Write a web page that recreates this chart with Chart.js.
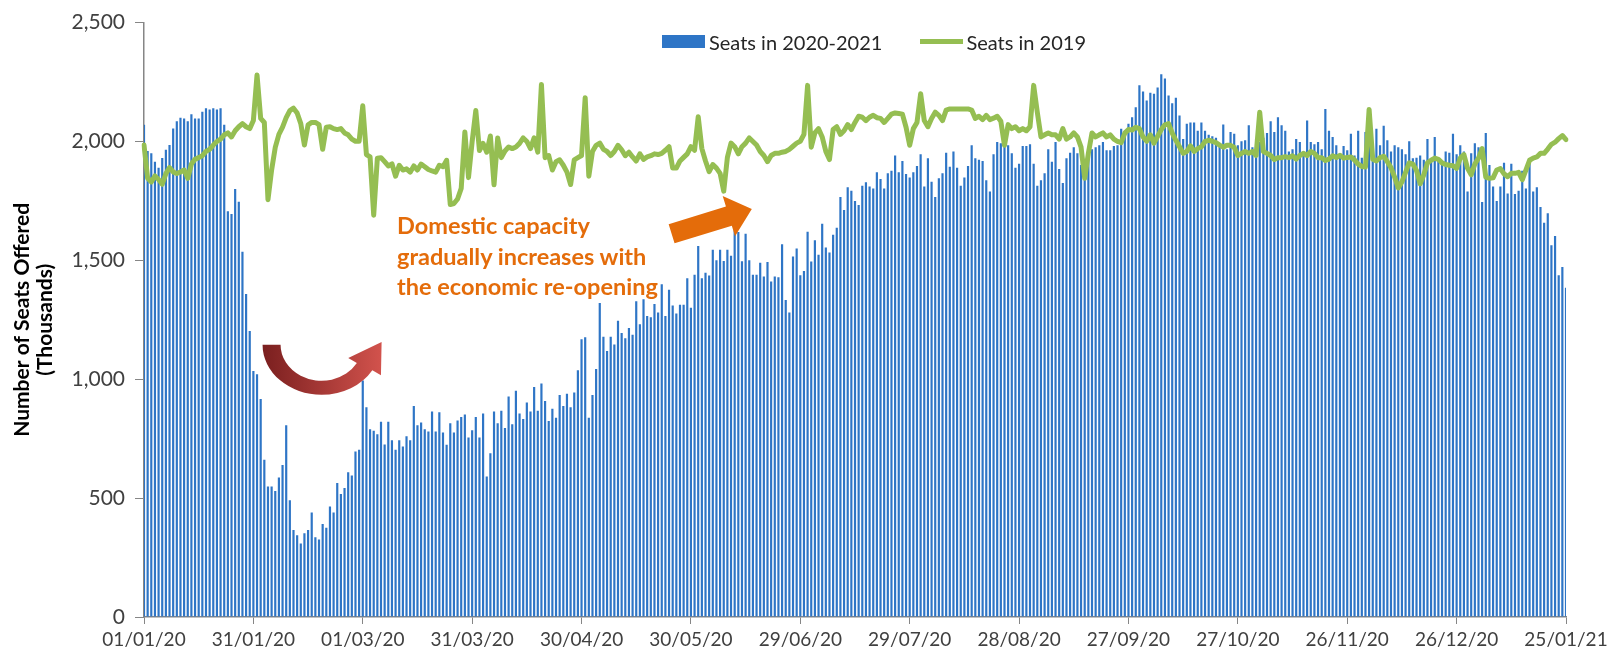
<!DOCTYPE html>
<html>
<head>
<meta charset="utf-8">
<script src="https://cdn.jsdelivr.net/npm/chart.js@4.4.1/dist/chart.umd.min.js"></script>
<style>
  body { margin: 0; background: #fff; }
  #wrap { position: relative; width: 1619px; height: 657px; font-family: Lato, 'Open Sans', sans-serif; }
  #chart { position: absolute; left: 0; top: 0; }
  .legend { position: absolute; left: 662px; top: 29px; height: 25px; display: flex; align-items: center; font-size: 20px; color: #262626; }
  .legend .box { width: 43px; height: 13px; background: #2e75c6; margin-right: 4px; }
  .legend .ln { width: 43px; height: 5px; background: #95be52; margin-left: 38px; margin-right: 3px; }
  .note { position: absolute; left: 397px; top: 210px; font-size: 23.5px; line-height: 30.5px; font-weight: bold; color: #e46c0a; }
</style>
</head>
<body>
<div id="wrap">
  <canvas id="chart" width="1619" height="657"></canvas>
  <div class="legend">
    <span class="box"></span><span>Seats in 2020-2021</span>
    <span class="ln"></span><span>Seats in 2019</span>
  </div>
  <div class="note">Domestic capacity<br>gradually increases with<br>the economic re-opening</div>
</div>
<script>
// daily seats offered (thousands), 01/01/20 .. 25/01/21
const seats2020 = [
  2070, 1960, 1950, 1915, 1890, 1930, 1965, 1985, 2055, 2085, 2100, 2097, 2085, 2115, 2097, 2097, 2125, 2140, 2135, 2140, 2135, 2140, 2070,
  1707, 1695, 1800, 1747, 1536, 1359, 1203, 1035, 1021, 917, 661, 549, 549, 530, 587, 639, 807, 491, 366, 344, 309, 352, 366, 439, 335, 326,
  391, 375, 465, 439, 564, 517, 543, 609, 595, 696, 703, 995, 882, 790, 783, 769,
  821, 726, 821, 743, 703, 743, 717, 760, 743, 887, 807,
  818, 790, 780, 864, 780, 861, 776, 724, 815, 776, 826, 841, 852, 755, 785, 841, 755, 856, 591, 689,
  864, 815, 867, 795, 927, 811, 952, 856, 833, 902, 864, 967, 867, 982, 909,
  824, 876, 838, 934, 887, 939, 882, 944, 1038, 1168, 1177, 838, 934, 1043, 1321,
  1179, 1119, 1179, 1146, 1246, 1194, 1172, 1216, 1187, 1328, 1231, 1336, 1266, 1261, 1316, 1281, 1400, 1266, 1376, 1310,
  1276, 1313, 1313, 1425, 1301, 1440, 1560, 1425, 1448, 1436, 1545, 1500, 1545, 1497, 1545, 1519, 1627, 1619, 1496, 1612, 1500, 1440, 1440,
  1490, 1432, 1493, 1411, 1432, 1429, 1568, 1333, 1281, 1516, 1550, 1437, 1455, 1620, 1495, 1585, 1524, 1654, 1554, 1533, 1608, 1637, 1767, 1712, 1807,
  1793, 1750, 1733, 1814, 1828, 1811, 1802, 1871, 1842, 1802, 1866, 1877, 1941, 1871, 1918, 1863, 1849, 1871, 1897, 1946,
  1811, 1929, 1831, 1767, 1845, 1866, 1953, 1894, 1958, 1889, 1814, 1849, 1897, 1984, 1929, 1923, 1918, 1837, 1790, 1946,
  1998, 1993, 2005, 1984, 1950, 1889, 1906, 1981, 1981, 1988, 1906, 1814, 1837, 1866, 1967, 1915, 1998, 1884, 1825, 1929,
  1953, 1976, 1950, 1901, 1915, 1963, 1967, 1976, 1984,
  1998, 1963, 1963, 1981, 1984, 2054, 2045, 2075, 2102, 2144, 2236, 2210, 2172, 2205, 2201, 2227, 2283, 2265, 2193, 2161,
  2184, 2109, 2010, 2075, 2080, 2080, 2045, 2080, 2045, 2028, 2022, 2016, 1984, 2071, 1967, 2040, 2033, 1984, 2001, 2005,
  2068, 1976, 2010, 1998, 2016, 2036, 2085, 2040, 2102, 2068, 2045, 1958, 1967, 2010, 1998, 1958, 2088, 1998, 1988, 1998,
  1967, 2137, 2045, 2019, 1984,
  1932, 1981, 1963, 2033, 1941, 2045, 1932, 2040, 2010, 1976, 2054, 1984, 2066, 2005, 1958, 1984, 1976, 1967, 1946, 2001,
  1929, 1932, 1941, 1923, 2010, 1923, 2019, 1923, 1918, 1958, 1953, 2033, 1946, 1984, 1958, 1790, 1950, 1993, 1976, 1745,
  2036, 1901, 1811, 1750, 1811, 1911, 1781, 1906, 1779, 1793, 1877, 1802, 1911, 1790, 1807, 1724, 1658, 1698, 1564, 1602,
  1437, 1472, 1385
];

const seats2019 = [
  1985, 1845, 1830, 1855, 1840, 1820, 1865, 1890, 1872, 1865, 1872, 1880, 1845, 1905, 1925, 1932, 1940, 1958, 1967, 1985,
  2000, 2010, 2028, 2036, 2019, 2045, 2062, 2075, 2062, 2054, 2088, 2280, 2097, 2080, 1755, 1880, 1975, 2030, 2060, 2100,
  2130, 2140, 2120, 2075, 1985, 2070, 2080, 2080, 2071, 1967, 2060, 2062, 2054, 2050, 2054, 2036, 2028, 2010, 2001, 2001,
  2150, 1945, 1935, 1690, 1930,
  1932, 1915, 1897, 1906, 1854, 1900, 1880, 1885, 1871, 1897, 1880, 1905, 1894, 1882, 1876, 1871, 1900, 1894, 1921, 1735,
  1739, 1758, 1803, 2040, 1848, 2000, 2130, 1962, 1992, 1955, 2023, 1818, 2015, 1932, 1960, 1977, 1970, 1977, 1992, 2015,
  2000, 1970, 2015, 1955, 2240, 1932,
  1941, 1880, 1915, 1923, 1900, 1871, 1819, 1923, 1932, 1941, 2184, 1854, 1958, 1984, 1993, 1967, 1958, 1941, 1958, 1984,
  1965, 1940, 1955, 1935, 1918, 1948, 1925, 1935, 1940, 1948, 1945, 1950, 1963, 1978, 1888, 1888, 1918, 1933, 1948, 1978,
  1963, 2104, 1970, 1918, 1873, 1903, 1888, 1866, 1791, 1933, 1993, 1978, 1948, 1978, 1993, 2015, 2000, 1985,
  1958, 1941, 1915, 1941, 1950, 1950, 1955, 1958, 1967, 1980, 1993, 2001, 2030, 2236, 1976, 2036, 2054, 2019, 1958, 1924,
  2050, 2062, 2030, 2045, 2071, 2050, 2080, 2106,
  2102, 2088, 2102, 2110, 2100, 2097, 2080, 2097, 2115, 2120, 2118, 2115, 2060, 1984, 2054, 2080, 2201, 2088, 2062, 2097,
  2123, 2110, 2088, 2132, 2137, 2137, 2137, 2137, 2137, 2137, 2132, 2097, 2106, 2092, 2110, 2092, 2098, 2106, 2085, 1984,
  2071, 2054, 2062, 2045, 2054, 2045, 2062, 2236, 2123, 2019, 2028, 2036, 2028, 2028, 2010, 2054, 2010, 2019, 2036, 2019,
  1976, 1845, 1950, 2036, 2019, 2028,
  2036, 2019, 2028, 2010, 2000, 1995, 2035, 2050, 2048, 2060, 2054, 2019, 2001, 2028, 1993, 2022, 2050, 2070, 2075, 2035,
  2005, 1978, 1950, 1958, 1982, 1958, 1970, 1978, 2000, 2005, 2001, 1995, 1985, 1976, 1984, 1984, 1975, 1941, 1950, 1958,
  1950, 1958, 1941, 2123, 1958, 1950, 1941, 1924, 1932, 1932, 1936, 1932, 1940, 1926, 1941, 1950, 1941, 1958, 1950, 1932,
  1932, 1920, 1926, 1940, 1932,
  1942, 1930, 1933, 1935, 1922, 1905, 1895, 1893, 2135, 1925, 1918, 1932, 1938, 1915, 1890, 1850, 1805, 1830, 1870, 1910,
  1905, 1878, 1822, 1860, 1910, 1921, 1930, 1925, 1910, 1903, 1900, 1898, 1887, 1930, 1945, 1887, 1860, 1905, 1930, 1970,
  1850, 1845, 1847, 1880, 1886, 1864, 1852, 1866, 1866, 1870, 1839, 1880, 1921, 1930, 1935, 1950, 1950, 1968, 1988, 1997,
  2012, 2025, 2008
];

const tickLabels = ['01/01/20', '31/01/20', '01/03/20', '31/03/20', '30/04/20', '30/05/20', '29/06/20',
  '29/07/20', '28/08/20', '27/09/20', '27/10/20', '26/11/20', '26/12/20', '25/01/21'];

// one category per day
const categories = [];
for (let i = 0; i < seats2020.length; i++) {
    const d = new Date(Date.UTC(2020, 0, 1 + i));
    categories.push(String(d.getUTCDate()).padStart(2, '0') + '/' +
        String(d.getUTCMonth() + 1).padStart(2, '0') + '/' + String(d.getUTCFullYear()).slice(2));
}

// arrows, anchored in (day index, value)
const curveArrow = { day: 48.7, value: 1145 };
const straightArrow = { from: [144.7, 1612], to: [166.7, 1716] };

const arrowsPlugin = {
    id: 'arrows',
    afterDatasetsDraw(chart) {
        const ctx = chart.ctx;
        const xs = chart.scales.x, ys = chart.scales.y;

        // red curved arrow
        const cx = xs.getPixelForValue(curveArrow.day), cy = ys.getPixelForValue(curveArrow.value);
        const rxO = 59, ryO = 50, rxI = 41, ryI = 36;
        const a1 = 0.17 * Math.PI;
        const po = [cx + rxO * Math.cos(a1), cy + ryO * Math.sin(a1)];
        const pi = [cx + rxI * Math.cos(a1), cy + ryI * Math.sin(a1)];
        const rad = [Math.cos(a1), Math.sin(a1)];
        const mid = [(po[0] + pi[0]) / 2, (po[1] + pi[1]) / 2];
        let tg = [((rxO + rxI) / 2) * Math.sin(a1), -((ryO + ryI) / 2) * Math.cos(a1)];
        const tl = Math.hypot(tg[0], tg[1]);
        tg = [tg[0] / tl, tg[1] / tl];
        const grad = ctx.createLinearGradient(cx - rxO, 0, cx + rxO, 0);
        grad.addColorStop(0, '#7a1f1f');
        grad.addColorStop(1, '#d1524c');
        ctx.save();
        ctx.beginPath();
        ctx.ellipse(cx, cy, rxO, ryO, 0, Math.PI, a1, true);
        ctx.lineTo(po[0] + rad[0] * 10, po[1] + rad[1] * 10);
        ctx.lineTo(mid[0] + tg[0] * 30, mid[1] + tg[1] * 30);
        ctx.lineTo(pi[0] - rad[0] * 10, pi[1] - rad[1] * 10);
        ctx.lineTo(pi[0], pi[1]);
        ctx.ellipse(cx, cy, rxI, ryI, 0, a1, Math.PI, false);
        ctx.closePath();
        ctx.fillStyle = grad;
        ctx.fill();

        // orange straight arrow
        const t = [xs.getPixelForValue(straightArrow.from[0]), ys.getPixelForValue(straightArrow.from[1])];
        const p = [xs.getPixelForValue(straightArrow.to[0]), ys.getPixelForValue(straightArrow.to[1])];
        const len = Math.hypot(p[0] - t[0], p[1] - t[1]);
        const u = [(p[0] - t[0]) / len, (p[1] - t[1]) / len];
        const n = [-u[1], u[0]];
        const h = [p[0] - u[0] * 24, p[1] - u[1] * 24];
        const pts = [
            [t[0] - n[0] * 10, t[1] - n[1] * 10],
            [h[0] - n[0] * 10, h[1] - n[1] * 10],
            [h[0] - n[0] * 21, h[1] - n[1] * 21],
            p,
            [h[0] + n[0] * 21, h[1] + n[1] * 21],
            [h[0] + n[0] * 10, h[1] + n[1] * 10],
            [t[0] + n[0] * 10, t[1] + n[1] * 10]
        ];
        ctx.beginPath();
        pts.forEach((q, i) => i ? ctx.lineTo(q[0], q[1]) : ctx.moveTo(q[0], q[1]));
        ctx.closePath();
        ctx.fillStyle = '#e46c0a';
        ctx.fill();
        ctx.restore();
    }
};

Chart.defaults.font.family = 'Lato';
const axisColor = '#868686';

new Chart(document.getElementById('chart').getContext('2d'), {
    type: 'bar',
    data: {
        labels: categories,
        datasets: [{
            type: 'line',
            label: 'Seats in 2019',
            data: seats2019,
            borderColor: '#95be52',
            borderWidth: 5,
            borderJoinStyle: 'round',
            borderCapStyle: 'round',
            pointRadius: 0,
            tension: 0,
            order: 1
        }, {
            label: 'Seats in 2020-2021',
            data: seats2020,
            backgroundColor: '#2e75c6',
            barPercentage: 0.6,
            categoryPercentage: 1,
            order: 2
        }]
    },
    options: {
        responsive: false,
        animation: false,
        layout: { padding: { left: 0, top: 14, right: 53, bottom: 0 } },
        plugins: {
            legend: { display: false },
            tooltip: { enabled: false }
        },
        scales: {
            x: {
                offset: false,
                afterFit: scale => { scale.height = 40; },
                grid: {
                    offset: false,
                    drawOnChartArea: false,
                    tickLength: 7,
                    color: ctx => (ctx.tick && ctx.tick.label ? axisColor : 'rgba(0,0,0,0)')
                },
                border: { color: axisColor, width: 1.5 },
                ticks: {
                    autoSkip: false,
                    maxRotation: 0,
                    minRotation: 0,
                    padding: 4,
                    color: '#404040',
                    font: { size: 19 },
                    callback: function (value) {
                        const lab = this.getLabelForValue(value);
                        return tickLabels.includes(lab) ? lab : '';
                    }
                }
            },
            y: {
                min: 0,
                max: 2500,
                afterFit: scale => { scale.width = 144; },
                grid: { drawOnChartArea: false, tickLength: 9, color: axisColor },
                border: { color: axisColor, width: 1.5 },
                ticks: {
                    stepSize: 500,
                    padding: 10,
                    color: '#404040',
                    font: { size: 21 },
                    callback: v => v.toLocaleString('en-US')
                },
                title: {
                    display: true,
                    text: ['Number of Seats Offered', '(Thousands)'],
                    color: '#000',
                    font: { size: 21, weight: 'bold', lineHeight: 1.1 },
                    padding: { top: 11, bottom: 0 }
                }
            }
        }
    },
    plugins: [arrowsPlugin]
});
</script>
</body>
</html>
